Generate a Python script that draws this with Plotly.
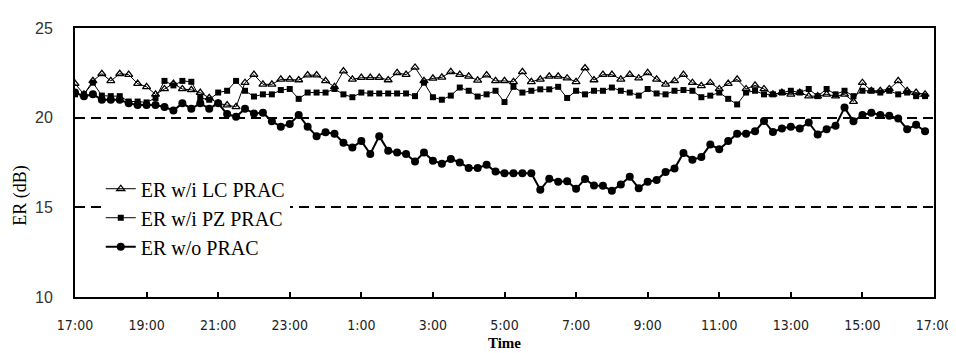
import pandas as pd
import plotly.graph_objects as go

# 15-minute samples from 17:00 to 16:45 next day
times = pd.date_range("2020-01-01 17:00", periods=96, freq="15min")

er_lc = [21.9, 21.3, 22.05, 22.45, 22.05, 22.45, 22.4, 21.9, 21.72, 21.3,
         21.6, 21.9, 21.6, 21.55, 21.4, 21.1, 20.8, 20.7, 20.6, 21.95,
         22.4, 21.86, 21.86, 22.14, 22.14, 22.1, 22.37, 22.37, 22.05, 21.72,
         22.6, 22.14, 22.23, 22.23, 22.23, 22.1, 22.5, 22.4, 22.8, 22.05,
         22.19, 22.25, 22.55, 22.4, 22.3, 22.08, 22.37, 22.05, 22.05, 22.0,
         22.55, 22.0, 22.14, 22.3, 22.3, 22.2, 22.0, 22.77, 22.1, 22.4,
         22.4, 22.14, 22.4, 22.2, 22.5, 22.14, 21.86, 22.05, 22.4, 21.95,
         21.77, 21.95, 21.6, 21.9, 22.14, 21.6, 21.8, 21.6, 21.3, 21.4,
         21.3, 21.4, 21.2, 21.2, 21.3, 21.2, 21.3, 20.9, 21.95, 21.5,
         21.5, 21.6, 22.05, 21.5, 21.4, 21.3]

er_pz = [21.3, 21.3, 21.95, 21.23, 21.2, 21.2, 20.9, 20.9, 20.85, 21.1,
         22.05, 21.8, 22.05, 22.0, 21.1, 21.0, 21.4, 21.5, 22.05, 21.5,
         21.18, 21.3, 21.3, 21.54, 21.6, 21.05, 21.4, 21.4, 21.4, 21.6,
         21.3, 21.14, 21.4, 21.35, 21.35, 21.35, 21.35, 21.35, 21.2, 21.95,
         21.14, 21.0, 21.23, 21.68, 21.5, 21.18, 21.3, 21.5, 20.87, 21.72,
         21.4, 21.5, 21.58, 21.58, 21.72, 21.1, 21.5, 21.3, 21.5, 21.5,
         21.68, 21.5, 21.4, 21.23, 21.6, 21.35, 21.3, 21.5, 21.54, 21.5,
         21.14, 21.23, 21.4, 21.05, 20.74, 21.4, 21.5, 21.3, 21.3, 21.4,
         21.5, 21.4, 21.6, 21.2, 21.6, 21.3, 21.5, 21.2, 21.5, 21.5,
         21.4, 21.5, 21.3, 21.4, 21.2, 21.2]

er_wo = [21.4, 21.2, 21.3, 21.0, 21.0, 21.0, 20.8, 20.7, 20.7, 20.7,
         20.6, 20.4, 20.8, 20.5, 20.8, 20.5, 20.8, 20.2, 20.05, 20.5,
         20.23, 20.27, 19.8, 19.5, 19.65, 20.15, 19.5, 18.97, 19.18, 19.1,
         18.6, 18.33, 18.7, 17.97, 18.97, 18.15, 18.06, 17.97, 17.55, 18.06,
         17.6, 17.43, 17.7, 17.5, 17.2, 17.2, 17.37, 17.0, 16.9, 16.9,
         16.9, 16.9, 15.98, 16.6, 16.43, 16.45, 16.03, 16.58, 16.22, 16.2,
         15.92, 16.28, 16.7, 16.07, 16.43, 16.52, 16.97, 17.16, 18.03, 17.66,
         17.8, 18.5, 18.24, 18.7, 19.11, 19.11, 19.24, 19.82, 19.2, 19.4,
         19.5, 19.4, 19.73, 19.06, 19.36, 19.55, 20.56, 19.8, 20.15, 20.27,
         20.15, 20.1, 19.96, 19.36, 19.6, 19.24]

y_ticks = [10, 15, 20, 25]
x_start = "2020-01-01 17:00"
x_end = "2020-01-02 17:00"

fig = go.Figure()
fig.add_trace(go.Scatter(
    x=times, y=er_lc, name="ER w/i LC PRAC", mode="lines+markers",
    line=dict(color="black", width=1),
    marker=dict(symbol="triangle-up-open", size=7, color="black",
                line=dict(width=1.3, color="black")),
))
fig.add_trace(go.Scatter(
    x=times, y=er_pz, name="ER w/i PZ PRAC", mode="lines+markers",
    line=dict(color="black", width=1),
    marker=dict(symbol="square", size=6, color="black"),
))
fig.add_trace(go.Scatter(
    x=times, y=er_wo, name="ER w/o PRAC", mode="lines+markers",
    line=dict(color="black", width=2),
    marker=dict(symbol="circle", size=8, color="black"),
))

fig.update_layout(
    width=956, height=353,
    margin=dict(l=67, r=24, t=19, b=58),
    paper_bgcolor="white", plot_bgcolor="white",
    showlegend=True,
    legend=dict(
        x=0.03, y=0.475, xanchor="left", yanchor="top",
        bgcolor="white", borderwidth=0,
        font=dict(family="Liberation Serif, Times New Roman, serif", size=20, color="black"),
        itemwidth=30, tracegroupgap=0,
    ),
    xaxis=dict(
        type="date", range=[x_start, x_end],
        dtick=7200000, tick0=x_start, tickformat="%-H:%M",
        ticks="inside", ticklen=5, tickwidth=1.5, tickcolor="black",
        showline=True, linecolor="black", linewidth=2, mirror=True,
        showgrid=False, zeroline=False,
        tickfont=dict(family="Liberation Sans Narrow, DejaVu Sans Condensed, Liberation Sans, sans-serif",
                      size=14, color="#222"),
        ticklabelstandoff=14,
        title=dict(text="<b>Time</b>", standoff=6,
                   font=dict(family="Liberation Serif, Times New Roman, serif", size=15, color="black")),
    ),
    yaxis=dict(
        range=[10, 25], tickvals=y_ticks, ticks="",
        showline=True, linecolor="black", linewidth=2, mirror=True,
        showgrid=True, gridcolor="black", gridwidth=1.5, griddash="10px,6px",
        zeroline=False,
        tickfont=dict(family="Liberation Sans, Arial, sans-serif", size=16, color="#333"),
        ticklabelstandoff=17,
    ),
    annotations=[dict(
        text="ER (dB)", textangle=-90, showarrow=False,
        xref="paper", yref="paper", x=-0.063, y=0.38,
        xanchor="center", yanchor="middle",
        font=dict(family="Liberation Serif, Times New Roman, serif", size=18, color="black"),
    )],
)

fig.write_html("out.html")
